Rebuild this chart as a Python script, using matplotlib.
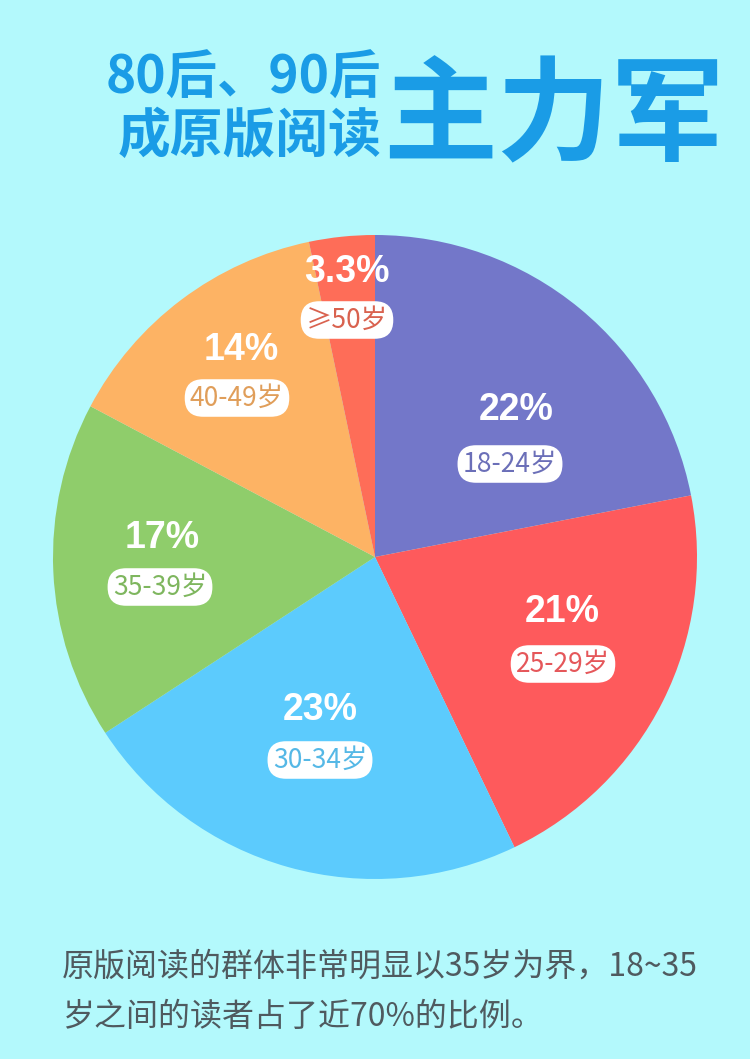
import matplotlib
matplotlib.use("Agg")
import matplotlib.pyplot as plt

# ---- data ----
age_groups = ["18-24岁", "25-29岁", "30-34岁", "35-39岁", "40-49岁", "≥50岁"]
shares = [22, 21, 23, 17, 14, 3.3]
share_labels = ["22%", "21%", "23%", "17%", "14%", "3.3%"]
colors = ["#7377C9", "#FE5A5C", "#5CCBFD", "#8FCD6B", "#FDB364", "#FE6D58"]
label_colors = ["#6B6FB8", "#E5575A", "#55B8E6", "#7EB65E", "#E09E5A", "#D9624F"]

title_line1 = "80后、90后"
title_line2 = "成原版阅读"
title_big = "主力军"
note_line1 = "原版阅读的群体非常明显以35岁为界，18~35"
note_line2 = "岁之间的读者占了近70%的比例。"

# ---- layout (pixel coordinates, y measured from top) ----
W, H = 750, 1059
BG = "#B3F9FC"
TITLE_C = "#1A9CE6"
pie_center = (375, H - 557)
pie_radius = 322
pct_pos = [(516, 410), (562, 612), (320, 710), (162, 538), (241, 350), (347, 272)]
lab_pos = [(510, 464), (563, 664), (320, 760), (160, 587), (237, 398), (347, 320)]

CJK = ["Noto Sans CJK SC", "DejaVu Sans"]

fig = plt.figure(figsize=(W / 100, H / 100), dpi=100, facecolor=BG)
ax = fig.add_axes([0, 0, 1, 1])
ax.set_facecolor(BG)

ax.pie(shares, colors=colors, startangle=90, counterclock=False,
       center=pie_center, radius=pie_radius, frame=False,
       wedgeprops=dict(linewidth=0, antialiased=True))
ax.set_xlim(0, W)
ax.set_ylim(0, H)
ax.set_aspect("auto")
ax.axis("off")

for i in range(len(shares)):
    px, py = pct_pos[i]
    ax.text(px, H - py, share_labels[i], ha="center", va="center",
            fontsize=27, fontweight="bold", color="white",
            family=["Liberation Sans", "DejaVu Sans"])
    lx, ly = lab_pos[i]
    ax.text(lx, H - ly, age_groups[i], ha="center", va="center",
            fontsize=19, fontweight="light", color=label_colors[i], family=CJK,
            bbox=dict(boxstyle="round,pad=0.2,rounding_size=0.7",
                      fc="white", ec="none"))

# title
ax.text(381, H - 78, title_line1, ha="right", va="center", fontsize=37,
        fontweight="bold", color=TITLE_C, family=CJK)
ax.text(381, H - 136, title_line2, ha="right", va="center", fontsize=38,
        fontweight="bold", color=TITLE_C, family=CJK)
ax.text(383, H - 119, title_big, ha="left", va="center", fontsize=82,
        fontweight="bold", color=TITLE_C, family=CJK)

# note
ax.text(62, H - 967, note_line1, ha="left", va="center", fontsize=23,
        color="#4F5A5F", family=CJK)
ax.text(62, H - 1017, note_line2, ha="left", va="center", fontsize=23,
        color="#4F5A5F", family=CJK)

fig.savefig("out.png", dpi=100, facecolor=BG)
